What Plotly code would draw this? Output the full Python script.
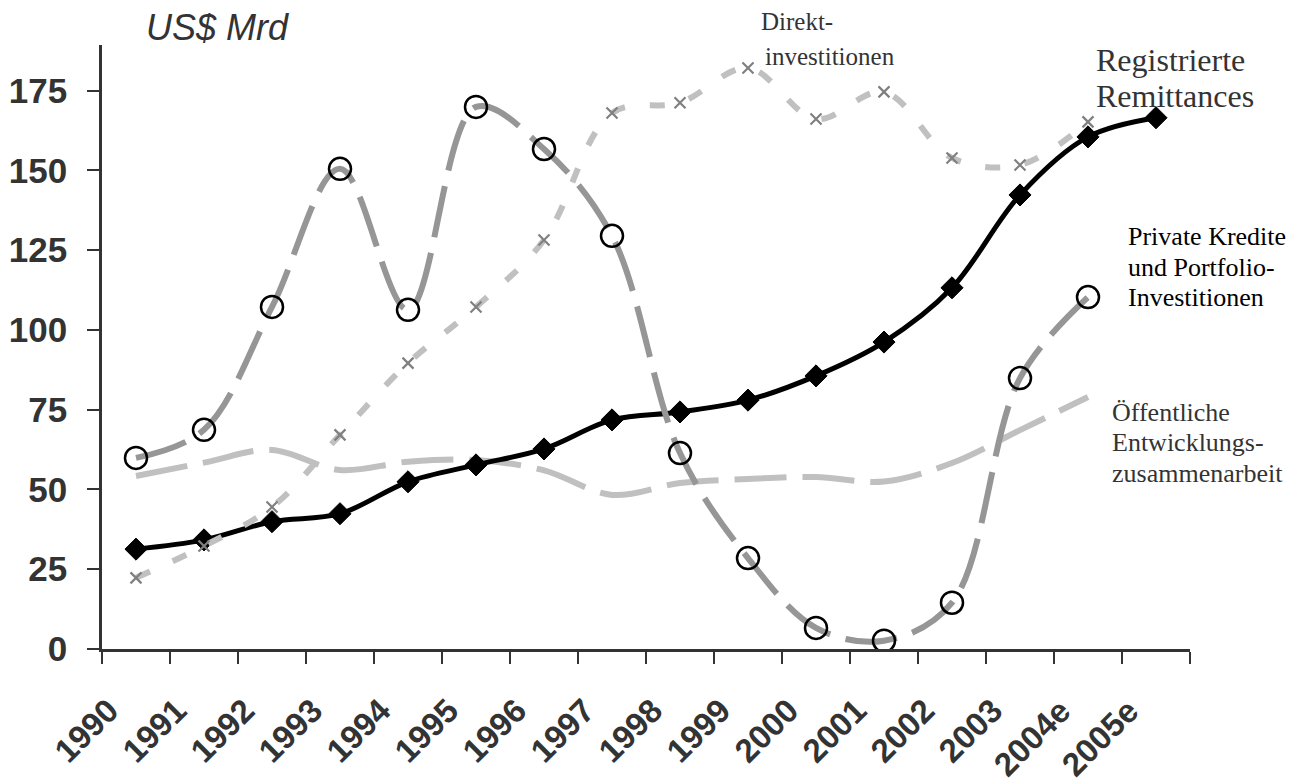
import plotly.graph_objects as go

# ---- data ----
years = ["1990", "1991", "1992", "1993", "1994", "1995", "1996", "1997",
         "1998", "1999", "2000", "2001", "2002", "2003", "2004e", "2005e"]
remittances = [31.3, 34.2, 39.9, 42.4, 52.4, 57.7, 62.7, 71.8,
               74.3, 78.0, 85.6, 96.2, 113.2, 142.3, 160.5, 166.5]
direkt = [22.3, 32.3, 44.5, 67.1, 89.6, 107.2, 128.2, 168.0,
          171.2, 182.1, 166.1, 174.6, 153.9, 151.7, 165.2]
private = [59.9, 68.7, 107.2, 150.5, 106.3, 169.9, 156.7, 129.5,
           61.4, 28.5, 6.6, 2.6, 14.5, 84.9, 110.3]
oda = [54.2, 58.4, 62.4, 56.1, 58.7, 59.2, 56.0, 48.3,
       52.0, 53.3, 53.9, 52.5, 58.3, 68.6, 79.0]
y_ticks = [0, 25, 50, 75, 100, 125, 150, 175]

W, H = 1304, 783
ML, MR, MT, MB = 102, 114, 45, 134
PW, PH = W - ML - MR, H - MT - MB


def px(x):
    return (x - ML) / PW


def py(y):
    return (H - MB - y) / PH


fig = go.Figure()

fig.add_trace(go.Scatter(
    x=years[:len(oda)], y=oda, mode="lines", line_shape="spline",
    line=dict(color="#c0c0c0", width=6, dash="52px,16px"),
    name="Öffentliche Entwicklungszusammenarbeit"))

fig.add_trace(go.Scatter(
    x=years, y=remittances, mode="lines+markers", line_shape="spline",
    line=dict(color="#000000", width=5),
    marker=dict(symbol="diamond", size=17, color="#000000",
                line=dict(color="#000000", width=1)),
    name="Registrierte Remittances"))

fig.add_trace(go.Scatter(
    x=years[:len(direkt)], y=direkt, mode="lines+markers", line_shape="spline",
    line=dict(color="#c0c0c0", width=6, dash="15px,25px"),
    marker=dict(symbol="x-thin-open", size=11, color="#808080",
                line=dict(color="#808080", width=2.2)),
    name="Direktinvestitionen"))

fig.add_trace(go.Scatter(
    x=years[:len(private)], y=private, mode="lines+markers", line_shape="spline",
    line=dict(color="#969696", width=6, dash="52px,16px"),
    marker=dict(symbol="circle-open", size=22, color="#000000",
                line=dict(color="#000000", width=2.5)),
    name="Private Kredite und Portfolio-Investitionen"))

serif = "Times New Roman, Liberation Serif, serif"
sans = "Arial, Liberation Sans, sans-serif"
labels = [
    ("<i>US$ Mrd</i>", 145, 28, sans, 36, "#333333"),
    ("Direkt-", 760, 22, serif, 25, "#333333"),
    ("investitionen", 764, 57, serif, 25, "#333333"),
    ("Registrierte", 1095, 60, serif, 32, "#333333"),
    ("Remittances", 1095, 96, serif, 32, "#333333"),
    ("Private Kredite", 1127, 237, serif, 26, "#000000"),
    ("und Portfolio-", 1127, 267, serif, 26, "#000000"),
    ("Investitionen", 1127, 297, serif, 26, "#000000"),
    ("Öffentliche", 1111, 412, serif, 26, "#333333"),
    ("Entwicklungs-", 1111, 443, serif, 26, "#333333"),
    ("zusammenarbeit", 1111, 473, serif, 26, "#333333"),
]
for text, x, y, fam, size, col in labels:
    fig.add_annotation(xref="paper", yref="paper", showarrow=False,
                       text=text, x=px(x), y=py(y), xanchor="left",
                       yanchor="middle", borderpad=0,
                       font=dict(family=fam, size=size, color=col))

# rotated category labels (placed at each category's position on the x axis);
# the text end sits just left of the category centre, as in the reference
XFS = 33
for i, cat in enumerate(years):
    L = 0.556 * XFS * len(cat)
    fig.add_annotation(xref="x", yref="y", x=i, y=0, showarrow=False,
                       text=cat, textangle=-45, xanchor="center",
                       yanchor="middle", borderpad=0,
                       xshift=-23.5 - 0.354 * L, yshift=-(56 + 0.354 * L),
                       font=dict(family=sans, size=XFS, color="#333333",
                                 weight="bold"))

fig.update_layout(
    width=W, height=H,
    margin=dict(l=ML, r=MR, t=MT, b=MB, autoexpand=False),
    paper_bgcolor="white", plot_bgcolor="white",
    showlegend=False,
    xaxis=dict(
        type="category", categoryorder="array", categoryarray=years,
        range=[-0.5, len(years) - 0.5], automargin=False,
        tickson="boundaries", ticks="outside", ticklen=12, tickwidth=2,
        tickcolor="#333333", showline=True, linecolor="#333333", linewidth=2.5,
        showgrid=False, zeroline=False, showticklabels=False,
    ),
    yaxis=dict(
        range=[0, 189.3], tickvals=y_ticks, ticks="outside", ticklen=12,
        tickwidth=2, tickcolor="#333333", showline=True, linecolor="#333333",
        linewidth=2.5, showgrid=False, zeroline=False, automargin=False,
        ticklabelstandoff=13,
        tickfont=dict(family=sans, size=35, color="#333333", weight="bold"),
    ),
)

fig.write_html("out.html",
               config={"displayModeBar": False},
               post_script="document.body.style.margin='0';"
                           "document.body.style.overflow='hidden';")
